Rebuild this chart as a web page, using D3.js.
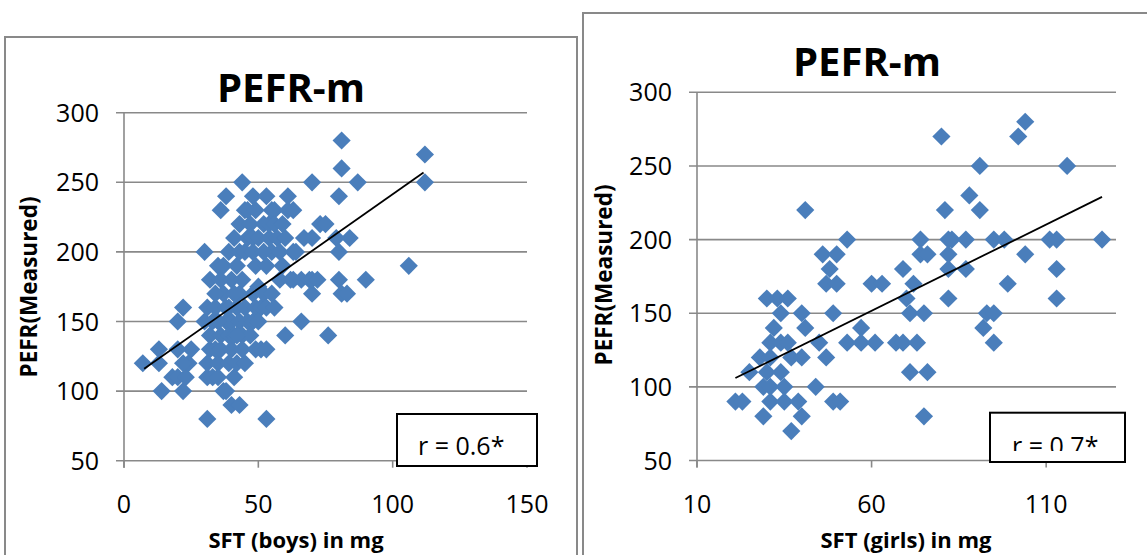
<!DOCTYPE html>
<html>
<head>
<meta charset="utf-8">
<script src="https://cdn.jsdelivr.net/npm/d3@7"></script>
<style>
  body { margin: 0; background: #fff; }
  text { font-family: "Open Sans", sans-serif; fill: #000; }
</style>
</head>
<body>
<div id="chart"></div>
<script>
// tick values
const yTicks = [50, 100, 150, 200, 250, 300];
const boysXTicks = [0, 50, 100, 150];
const girlsXTicks = [10, 60, 110];

// [SFT, PEFR]
const boys = [
  [7,120],[13,130],[13,120],[14,100],[18,110],[20,110],[20,150],[20,130],[22,160],[22,100],[23,110],[24,120],[25,130],[22,120],
  [30,200],[30,150],[31,160],[31,110],[31,80],[32,180],[32,130],[31,120],[32,140],[33,150],[33,110],[34,160],[34,130],
  [35,190],[35,120],[35,110],[36,230],[36,180],[36,140],[36,130],[37,170],[37,100],[38,240],[38,160],[38,150],[38,100],
  [39,200],[39,140],[39,120],[40,180],[40,150],[40,90],[40,130],[41,210],[41,140],[41,110],[42,190],[42,160],[42,120],
  [43,220],[43,200],[43,170],[43,150],[43,90],[44,250],[44,140],[44,130],[45,200],[45,230],[45,160],[46,230],[46,210],
  [46,150],[47,220],[48,240],[48,210],[48,200],[48,150],[48,170],[49,230],[49,190],[49,130],[49,160],[50,210],[50,175],
  [51,160],[51,130],[52,220],[52,170],[53,240],[53,190],[53,160],[53,130],[53,80],[54,210],[54,220],[55,230],[55,200],
  [55,170],[56,230],[56,220],[57,210],[58,200],[58,180],[59,220],[59,190],[60,140],[60,210],[61,240],[61,230],[62,180],
  [63,230],[63,200],[63,180],[64,200],[66,180],[66,150],[67,210],[69,180],[70,250],[70,210],[70,170],[70,180],[72,180],
  [73,220],[75,220],[76,140],[79,210],[80,200],[80,180],[80,240],[81,260],[81,280],[81,170],[83,170],[84,210],[87,250],
  [90,180],[106,190],[112,270],[112,250],
  [34,170],[37,190],[41,170],[44,180],[47,140],[50,150],[52,200],[56,160],[45,120],[39,160],[35,150],[42,140]
];
const girls = [
  [104,280],[80,270],[102,270],[91,250],[116,250],[88,230],[41,220],[81,220],[91,220],
  [53,200],[74,200],[82,200],[83,200],[87,200],[95,200],[98,200],[111,200],[113,200],[126,200],
  [46,190],[50,190],[74,190],[76,190],[82,190],[104,190],
  [48,180],[69,180],[82,180],[87,180],[113,180],
  [47,170],[50,170],[60,170],[63,170],[72,170],[99,170],
  [30,160],[33,160],[36,160],[70,160],[82,160],[113,160],
  [34,150],[40,150],[49,150],[71,150],[75,150],[93,150],[95,150],
  [32,140],[41,140],[57,140],[92,140],
  [31,130],[34,130],[36,130],[45,130],[53,130],[57,130],[61,130],[67,130],[69,130],[73,130],[95,130],
  [28,120],[31,120],[37,120],[40,120],[47,120],
  [25,110],[30,110],[34,110],[71,110],[76,110],
  [29,100],[31,100],[35,100],[44,100],
  [21,90],[23,90],[31,90],[35,90],[39,90],[49,90],[51,90],
  [29,80],[40,80],[75,80],
  [37,70]
];

// linear trendline end points
const boysTrend = [[7.5, 116], [111.5, 257]];
const girlsTrend = [[21, 106], [126, 229]];

const svg = d3.select("#chart")
  .append("svg")
  .attr("width", 1147)
  .attr("height", 555);

svg.append("rect").attr("width", 1147).attr("height", 555).attr("fill", "#fff");

const panels = [
  {
    id: "b", points: boys, trend: boysTrend, xTicks: boysXTicks, xDomain: [0, 150],
    xRange: [124, 527], yRange: [460.7, 112.7], frame: [5, 37, 572, 540],
    title: "PEFR-m", titleX: 291, titleY: 102, xLabel: "SFT (boys) in mg", xLabelX: 296,
    yLabelX: 29, yLabelY: 287, rText: "r = 0.6*", box: [397, 414, 140, 52], rX: 418, rY: 455, rClip: 470
  },
  {
    id: "g", points: girls, trend: girlsTrend, xTicks: girlsXTicks, xDomain: [10, 130],
    xRange: [697, 1116], yRange: [460.5, 92.3], frame: [583, 13, 600, 560],
    title: "PEFR-m", titleX: 867, titleY: 76, xLabel: "SFT (girls) in mg", xLabelX: 906,
    yLabelX: 604, yLabelY: 275, rText: "r = 0.7*", box: [990, 412.7, 135, 49.3], rX: 1012, rY: 455, rClip: 451
  }
];

const grey = "#898989";
const diamond = d3.symbol().type(d3.symbolSquare).size(165);

panels.forEach(p => {
  const x = d3.scaleLinear().domain(p.xDomain).range(p.xRange);
  const y = d3.scaleLinear().domain([50, 300]).range(p.yRange);
  const g = svg.append("g");

  // chart frame
  g.append("rect")
    .attr("x", p.frame[0]).attr("y", p.frame[1])
    .attr("width", p.frame[2]).attr("height", p.frame[3])
    .attr("fill", "none").attr("stroke", grey).attr("stroke-width", 2);

  // horizontal gridlines + y ticks
  g.append("g").selectAll("line")
    .data(yTicks)
    .join("line")
    .attr("x1", p.xRange[0] - 8).attr("x2", p.xRange[1])
    .attr("y1", d => y(d)).attr("y2", d => y(d))
    .attr("stroke", grey).attr("stroke-width", 1.6);

  g.append("g").selectAll("text")
    .data(yTicks)
    .join("text")
    .attr("x", p.xRange[0] - 25)
    .attr("y", d => y(d) + 9)
    .attr("text-anchor", "end")
    .style("font-size", "25px")
    .text(d => d);

  // y axis line
  g.append("line")
    .attr("x1", p.xRange[0]).attr("x2", p.xRange[0])
    .attr("y1", y(300)).attr("y2", y(50) + 7)
    .attr("stroke", grey).attr("stroke-width", 1.6);

  // x ticks
  g.append("g").selectAll("line")
    .data(p.xTicks)
    .join("line")
    .attr("x1", d => x(d)).attr("x2", d => x(d))
    .attr("y1", y(50)).attr("y2", y(50) + 7)
    .attr("stroke", grey).attr("stroke-width", 1.6);

  g.append("g").selectAll("text")
    .data(p.xTicks)
    .join("text")
    .attr("x", d => x(d))
    .attr("y", 513)
    .attr("text-anchor", "middle")
    .style("font-size", "25px")
    .text(d => d);

  // points
  g.append("g").selectAll("path")
    .data(p.points)
    .join("path")
    .attr("d", diamond)
    .attr("transform", d => `translate(${x(d[0])},${y(d[1])}) rotate(45)`)
    .attr("fill", "#4a7ebb");

  // trendline
  g.append("line")
    .attr("x1", x(p.trend[0][0])).attr("y1", y(p.trend[0][1]))
    .attr("x2", x(p.trend[1][0])).attr("y2", y(p.trend[1][1]))
    .attr("stroke", "#000").attr("stroke-width", 1.8);

  // titles
  g.append("text")
    .attr("x", p.titleX).attr("y", p.titleY)
    .attr("text-anchor", "middle")
    .style("font-size", "40px").style("font-weight", "bold")
    .text(p.title);

  g.append("text")
    .attr("x", p.xLabelX).attr("y", 548)
    .attr("text-anchor", "middle")
    .style("font-size", "22px").style("font-weight", "bold")
    .text(p.xLabel);

  g.append("text")
    .attr("transform", `translate(${p.yLabelX + 8},${p.yLabelY}) rotate(-90)`)
    .attr("text-anchor", "middle")
    .style("font-size", "22.5px").style("font-weight", "bold")
    .text("PEFR(Measured)");

  // r box
  g.append("rect")
    .attr("x", p.box[0]).attr("y", p.box[1])
    .attr("width", p.box[2]).attr("height", p.box[3])
    .attr("fill", "#fff").attr("stroke", "#000").attr("stroke-width", 2);

  svg.append("clipPath").attr("id", "clip-" + p.id)
    .append("rect")
    .attr("x", p.box[0]).attr("y", p.box[1])
    .attr("width", p.box[2]).attr("height", p.rClip - p.box[1]);

  g.append("text")
    .attr("clip-path", `url(#clip-${p.id})`)
    .attr("x", p.rX).attr("y", p.rY)
    .style("font-size", "25px")
    .text(p.rText);
});
</script>
</body>
</html>
